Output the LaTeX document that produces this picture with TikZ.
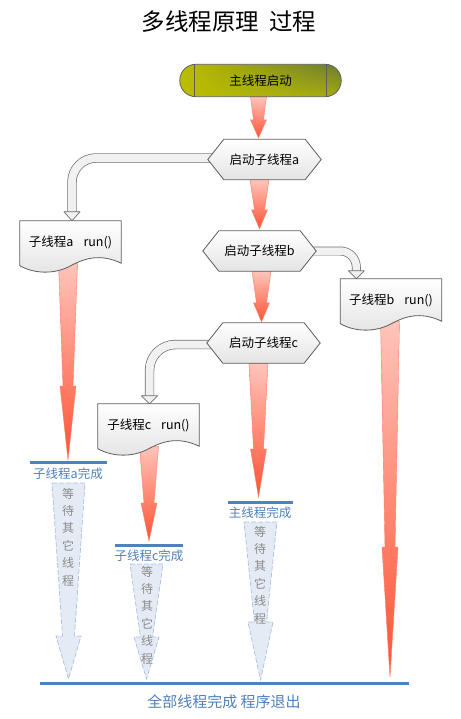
\documentclass[tikz,border=0pt]{standalone}
\usepackage{fontspec}
\setmainfont{Noto Sans CJK SC}
\usetikzlibrary{calc,shadings}
\pgfdeclarelayer{bg}
\pgfdeclarelayer{shapes}
\pgfsetlayers{bg,shapes,main}
\definecolor{boxedge}{HTML}{5E5E5E}
\definecolor{shapegray}{HTML}{E4E4E4}
\definecolor{pipeedge}{HTML}{6E6E6E}
\definecolor{pipefill}{HTML}{F1F1F1}
\definecolor{doneblue}{HTML}{4F81BD}
\definecolor{waitfill}{HTML}{E5EBF5}
\definecolor{waitedge}{HTML}{A9C1E1}
\definecolor{waitgray}{HTML}{8A8A8A}
\definecolor{redtop}{HTML}{FFC4BB}
\definecolor{redbot}{HTML}{FF5233}
\definecolor{rededge}{HTML}{FF7C62}
\definecolor{olivea}{HTML}{BCBE00}
\definecolor{oliveb}{HTML}{6C7C30}
\definecolor{olivec}{HTML}{A4AA10}
\tikzset{
  lbl/.style={inner sep=0pt, font=\fontsize{12.5pt}{15pt}\selectfont, text=black},
  hexnode/.style={lbl, minimum width=113pt, minimum height=40pt},
  docnode/.style={lbl, minimum width=101pt, minimum height=42pt},
  pillnode/.style={lbl, minimum width=161pt, minimum height=32pt},
  hexshape/.style={draw=boxedge, line width=0.8pt, top color=white, bottom color=shapegray},
  docshape/.style={draw=boxedge, line width=0.8pt, top color=white, bottom color=shapegray},
  pillshape/.style={draw=boxedge, line width=0.8pt, upper left=olivea, upper right=oliveb, lower left=olivea, lower right=olivec},
  pipe/.style={draw=pipeedge, line width=0.7pt, double=pipefill, double distance=8pt},
  pipehead/.style={draw=pipeedge, line width=0.7pt, fill=pipefill, line join=round},
  redarrow/.style={draw=rededge, line width=0.4pt, top color=redtop, bottom color=redbot},
  waitshape/.style={draw=waitedge, line width=0.7pt, fill=waitfill, dash pattern=on 5pt off 2pt},
  waittext/.style={text=waitgray, font=\fontsize{12pt}{17.4pt}\selectfont, align=center, inner sep=0pt},
  donetext/.style={text=doneblue, font=\fontsize{12.5pt}{15pt}\selectfont, inner sep=0pt},
  doneline/.style={draw=doneblue, line width=3pt},
  titletext/.style={font=\fontsize{23.5pt}{28pt}\selectfont, inner sep=0pt}
}
\newcommand\hexpath[1]{%
  \path[hexshape] (#1.west) -- ($(#1.north west)+(16,0)$) -- ($(#1.north east)+(-16,0)$) -- (#1.east)
    -- ($(#1.south east)+(-16,0)$) -- ($(#1.south west)+(16,0)$) -- cycle;}
\newcommand\docpath[1]{%
  \path[docshape] (#1.north west) -- (#1.north east) -- (#1.south east)
    .. controls ($(#1.south west)+(80,-10)$) and ($(#1.south west)+(65,-5)$) .. ($(#1.south west)+(50,3)$)
    .. controls ($(#1.south west)+(35,11)$) and ($(#1.south west)+(15,11)$) .. ($(#1.south west)+(0,2.5)$) -- cycle;}
\newcommand\redarrow[4]{%
  \path[redarrow] let \p1=#1, \p2=#2 in
   (\x2-#3pt,\y1) -- (\x2+#3pt,\y1) -- (\x2+5pt,\y2+#4pt) -- (\x2+8pt,\y2+#4pt) -- (\x2,\y2)
   -- (\x2-8pt,\y2+#4pt) -- (\x2-5pt,\y2+#4pt) -- cycle;}
\newcommand\waitarrow[4]{%
  \path[waitshape] ({#1-16.5},#2) -- ({#1+16.5},#2) -- ({#1+6},#3) -- ({#1+12.5},#3) -- (#1,#4)
   -- ({#1-12.5},#3) -- ({#1-6},#3) -- cycle;}
\begin{document}
\begin{tikzpicture}[x=1pt,y=-1pt]
\begin{pgfonlayer}{bg}
\fill[white] (0,0) rectangle (460,719);
\end{pgfonlayer}
\useasboundingbox (0,0) rectangle (460,719);

% title
\node[titletext] (title) at (229,22) {多线程原理\hspace{10pt}过程};

% nodes
\node[pillnode] (start) at (260.5,80.5) {主线程启动};
\node[hexnode] (ha) at (264.5,159.5) {启动子线程a};
\node[hexnode] (hb) at (259.5,251) {启动子线程b};
\node[hexnode] (hc) at (263.5,343) {启动子线程c};
\node[docnode] (boxa) at (70.5,242) {子线程a\hspace{0.8em}run()};
\node[docnode] (boxb) at (391,300) {子线程b\hspace{0.8em}run()};
\node[docnode] (boxc) at (148.5,425) {子线程c\hspace{0.8em}run()};

% done labels
\node[donetext] (adone) at (68,474) {子线程a完成};
\node[donetext] (cdone) at (149,556) {子线程c完成};
\node[donetext] (mdone) at (260,513) {主线程完成};
\node[donetext, font=\fontsize{15pt}{18pt}\selectfont] (alldone) at (224,702) {全部线程完成 程序退出};
\draw[doneline] (30,462) -- (107,462);
\draw[doneline] (115,545) -- (183,545);
\draw[doneline] (228,502) -- (293,502);
\draw[doneline] (40,683) -- (409,683);

% waiting texts
\node[waittext] (await) at (68,537) {等\\待\\其\\它\\线\\程};
\node[waittext] (cwait) at (147,615) {等\\待\\其\\它\\线\\程};
\node[waittext] (mwait) at (260,575) {等\\待\\其\\它\\线\\程};

\coordinate (atip) at (68,460);
\coordinate (btip) at (390,677);
\coordinate (ctip) at (149,541);
\coordinate (mtip) at (258.5,497);

% shapes
\begin{pgfonlayer}{shapes}
\path[pillshape, rounded corners=16pt] (start.south west) rectangle (start.north east);
\draw[boxedge, line width=0.8pt] ($(start.north west)+(15,0)$) -- ($(start.south west)+(15,0)$);
\draw[boxedge, line width=0.8pt] ($(start.north east)+(-15,0)$) -- ($(start.south east)+(-15,0)$);
\hexpath{ha}
\hexpath{hb}
\hexpath{hc}
\docpath{boxa}
\docpath{boxb}
\docpath{boxc}
\waitarrow{68.5}{483}{636}{679}
\waitarrow{146.5}{564}{637}{679}
\waitarrow{260.5}{522}{622}{680}
\end{pgfonlayer}

% connectors
\begin{pgfonlayer}{bg}
\draw[pipe, rounded corners=24pt] ($(ha.west)+(4,-1.5)$) -| ($(boxa.north)+(1.5,-9)$);
\path[pipehead] ($(boxa.north)+(-6.5,-9)$) -- ($(boxa.north)+(9.5,-9)$) -- ($(boxa.north)+(1.5,0)$) -- cycle;
\draw[pipe, double distance=7.5pt, rounded corners=16pt] ($(hb.east)+(-4,0)$) -| ($(boxb.north west)+(16,-8)$);
\path[pipehead] ($(boxb.north west)+(8,-8)$) -- ($(boxb.north west)+(24,-8)$) -- ($(boxb.north west)+(16,0)$) -- cycle;
\draw[pipe, rounded corners=26pt] ($(hc.west)+(4,1.5)$) -| ($(boxc.north)+(1,-8)$);
\path[pipehead] ($(boxc.north)+(-7,-8)$) -- ($(boxc.north)+(9,-8)$) -- ($(boxc.north)+(1,0)$) -- cycle;

\redarrow{(start.south)}{($(ha.north)+(-6,-1.5)$)}{8}{18}
\redarrow{(ha.south)}{($(hb.north)+(0,-2)$)}{9.5}{19}
\redarrow{(hb.south)}{($(hc.north)+(-2,-1)$)}{9.5}{19}
\redarrow{(hc.south)}{(mtip)}{9.5}{48}
\redarrow{(boxa.south)}{(atip)}{9.5}{74}
\redarrow{(boxb.south)}{(btip)}{9.5}{130}
\redarrow{(boxc.south)}{(ctip)}{9.5}{38}
\end{pgfonlayer}
\end{tikzpicture}
\end{document}
